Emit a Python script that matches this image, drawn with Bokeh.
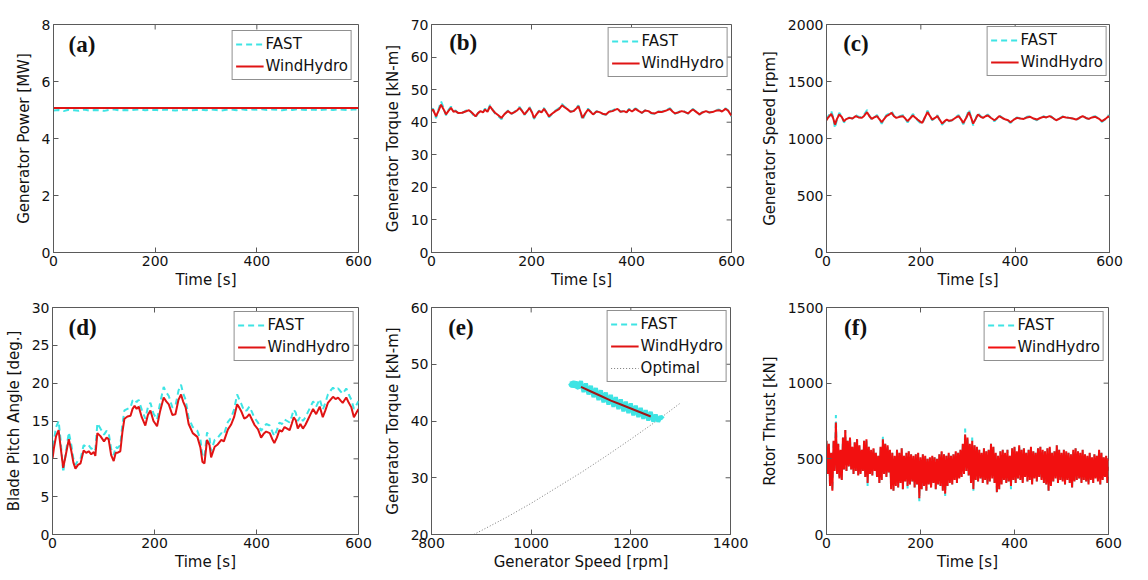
from bokeh.plotting import figure
from bokeh.models import Range1d, FixedTicker, Legend, LegendItem, Label
from bokeh.layouts import row, column
from bokeh.embed import file_html
from bokeh.resources import INLINE

# ---------------- data ----------------
# (a) Generator power [MW]
power_t = list(range(0, 601, 10))
power_fast = [4.98, 5.00, 4.96, 5.01, 4.99, 4.97, 5.02, 4.98, 5.00, 4.99,
              4.97, 5.01, 5.02, 4.98, 5.00, 4.99, 5.01, 5.02, 4.99, 5.00,
              5.01, 4.98, 5.02, 5.00, 4.98, 5.01, 5.02, 4.99, 5.00, 5.01,
              4.99, 5.02, 5.00, 4.98, 5.01, 5.02, 4.99, 5.03, 5.00, 5.02,
              5.01, 5.03, 5.00, 5.02, 5.01, 4.99, 5.02, 5.00, 5.03, 5.01,
              5.00, 5.02, 4.99, 5.01, 5.02, 5.00, 5.03, 5.01, 5.00, 5.02,
              5.01]
power_wh_t = [0, 600]
power_wh = [5.07, 5.07]

# (b) Generator torque [kN-m]
torque_t = [0, 3, 9, 14, 19, 24, 29, 34, 39, 44,
            48, 54, 61, 68, 75, 81, 88, 93, 98, 103,
            107, 112, 117, 122, 127, 133, 140, 146, 153, 160,
            166, 171, 176, 181, 186, 191, 196, 201, 205, 210,
            215, 220, 225, 230, 235, 241, 248, 255, 261, 266,
            271, 278, 284, 289, 294, 298, 302, 307, 313, 318,
            323, 330, 336, 342, 349, 355, 362, 367, 372, 378,
            385, 390, 395, 401, 408, 414, 421, 427, 434, 440,
            447, 453, 460, 468, 477, 482, 487, 493, 500, 506,
            513, 518, 523, 530, 536, 542, 549, 555, 562, 568,
            575, 581, 588, 593, 598, 600]
torque_wh = [43.5, 43.9, 41.8, 43.5, 45.4, 44.0, 42.4, 43.5, 44.4, 43.2,
             43.4, 42.8, 42.9, 43.3, 43.7, 42.9, 41.8, 42.8, 43.4, 43.0,
             43.9, 43.2, 44.9, 43.8, 42.9, 42.2, 41.3, 42.5, 43.4, 42.6,
             43.1, 43.6, 44.4, 43.5, 42.4, 43.3, 44.4, 43.0, 41.3, 42.4,
             43.4, 43.0, 44.1, 43.0, 41.8, 42.6, 43.4, 44.0, 45.2, 44.6,
             44.1, 43.2, 43.4, 44.1, 44.9, 43.2, 41.3, 42.6, 43.9, 43.2,
             42.4, 43.3, 43.1, 42.6, 42.4, 43.2, 43.4, 43.8, 44.1, 43.2,
             43.4, 43.0, 43.9, 43.3, 44.1, 43.5, 42.9, 43.6, 43.4, 42.8,
             42.7, 43.2, 43.1, 43.5, 44.1, 43.3, 42.7, 43.0, 43.4, 43.2,
             42.7, 43.4, 43.9, 43.1, 42.4, 43.0, 43.4, 43.0, 43.1, 43.5,
             43.7, 43.3, 44.1, 43.6, 42.4, 42.0]
torque_fast = [43.8, 44.2, 41.2, 43.9, 46.4, 44.5, 42.1, 43.8, 44.8, 43.4,
               43.6, 42.6, 42.8, 43.5, 44.0, 42.7, 41.4, 42.8, 43.6, 43.1,
               44.2, 43.3, 45.3, 44.0, 42.7, 41.9, 40.9, 42.4, 43.6, 42.5,
               43.2, 43.8, 44.7, 43.6, 42.2, 43.4, 44.7, 43.0, 41.0, 42.3,
               43.6, 43.1, 44.4, 43.0, 41.5, 42.5, 43.6, 44.3, 45.6, 44.8,
               44.3, 43.2, 43.5, 44.3, 45.2, 43.0, 40.6, 42.4, 44.2, 43.3,
               42.2, 43.4, 43.2, 42.5, 42.3, 43.3, 43.6, 44.0, 44.3, 43.2,
               43.5, 42.9, 44.1, 43.4, 44.3, 43.6, 42.8, 43.7, 43.5, 42.7,
               42.6, 43.3, 43.2, 43.6, 44.3, 43.3, 42.6, 43.0, 43.6, 43.3,
               42.6, 43.5, 44.1, 43.1, 42.3, 43.1, 43.6, 43.0, 43.2, 43.7,
               43.9, 43.3, 44.3, 43.7, 42.2, 41.8]

# (c) Generator speed [rpm]
speed_t = [0, 3, 10, 14, 18, 22, 27, 32, 37, 42,
           48, 55, 62, 68, 75, 80, 86, 91, 96, 101,
           107, 112, 117, 122, 127, 133, 138, 143, 148, 155,
           162, 167, 172, 178, 183, 188, 193, 198, 203, 208,
           214, 219, 224, 230, 235, 240, 245, 250, 255, 260,
           266, 273, 280, 285, 290, 296, 302, 306, 311, 316,
           321, 327, 332, 337, 342, 349, 356, 361, 366, 373,
           380, 385, 390, 397, 404, 411, 418, 425, 432, 439,
           446, 453, 460, 466, 473, 480, 487, 494, 501, 508,
           515, 522, 529, 536, 543, 550, 556, 563, 570, 577,
           584, 591, 598, 600]
speed_wh = [1160, 1181, 1215, 1180, 1122, 1170, 1210, 1190, 1152, 1170,
            1181, 1175, 1196, 1185, 1181, 1200, 1231, 1195, 1172, 1185,
            1196, 1170, 1143, 1170, 1196, 1210, 1225, 1195, 1181, 1190,
            1196, 1175, 1152, 1180, 1202, 1185, 1166, 1150, 1137, 1180,
            1231, 1200, 1166, 1180, 1196, 1165, 1131, 1150, 1166, 1155,
            1160, 1180, 1196, 1170, 1137, 1180, 1231, 1190, 1131, 1170,
            1210, 1190, 1181, 1195, 1202, 1180, 1160, 1175, 1196, 1180,
            1166, 1160, 1143, 1165, 1181, 1175, 1172, 1185, 1190, 1175,
            1166, 1180, 1190, 1185, 1196, 1180, 1160, 1175, 1190, 1185,
            1181, 1175, 1166, 1180, 1196, 1180, 1172, 1185, 1190, 1175,
            1152, 1170, 1196, 1185]
speed_fast = [1165, 1190, 1240, 1190, 1090, 1165, 1225, 1200, 1140, 1165,
              1185, 1175, 1205, 1190, 1185, 1210, 1250, 1200, 1165, 1185,
              1205, 1170, 1130, 1170, 1205, 1220, 1240, 1200, 1180, 1195,
              1205, 1175, 1140, 1180, 1215, 1190, 1160, 1140, 1125, 1180,
              1245, 1205, 1160, 1180, 1205, 1160, 1120, 1145, 1165, 1150,
              1160, 1185, 1205, 1170, 1125, 1180, 1255, 1195, 1115, 1170,
              1225, 1195, 1180, 1200, 1210, 1180, 1150, 1175, 1205, 1180,
              1160, 1155, 1135, 1165, 1185, 1175, 1170, 1190, 1195, 1175,
              1160, 1180, 1195, 1185, 1205, 1180, 1155, 1175, 1195, 1185,
              1180, 1175, 1160, 1180, 1205, 1180, 1170, 1190, 1195, 1175,
              1145, 1170, 1205, 1185]

# (d) Blade pitch angle [deg.]
pitch_t = [0, 3, 7, 12, 16, 21, 26, 32, 37, 41,
           45, 50, 55, 61, 66, 71, 76, 81, 84, 88,
           94, 101, 106, 110, 115, 120, 124, 127, 133, 137,
           141, 147, 153, 157, 161, 165, 169, 175, 182, 187,
           192, 198, 205, 211, 218, 223, 228, 235, 241, 247,
           252, 256, 261, 267, 275, 284, 290, 294, 298, 303,
           308, 311, 318, 324, 331, 336, 344, 350, 356, 362,
           366, 370, 376, 381, 386, 391, 396, 403, 409, 414,
           419, 426, 431, 435, 440, 445, 450, 455, 460, 465,
           469, 473, 477, 481, 486, 491, 496, 501, 506, 511,
           517, 524, 530, 535, 540, 545, 550, 555, 560, 565,
           569, 573, 576, 581, 586, 591, 595, 600]
pitch_wh = [10.0, 11.5, 13.0, 13.8, 11.5, 8.8, 10.5, 12.6, 11.0, 9.5,
            8.7, 9.2, 9.4, 11.1, 10.8, 11.0, 10.6, 10.9, 10.4, 13.4,
            13.0, 12.3, 12.8, 12.6, 10.5, 9.7, 10.8, 10.8, 11.0, 13.5,
            15.3, 15.6, 15.7, 16.6, 17.0, 16.6, 16.9, 15.5, 14.4, 15.8,
            16.4, 15.0, 14.3, 16.3, 18.1, 17.6, 17.2, 15.8, 15.9, 17.8,
            18.5, 17.6, 16.8, 14.6, 13.4, 12.9, 11.5, 9.6, 9.4, 12.5,
            11.8, 10.2, 11.6, 11.9, 12.5, 12.3, 13.9, 14.5, 15.5, 17.2,
            16.8, 16.3, 15.3, 15.5, 15.9, 15.2, 14.5, 13.9, 12.8, 13.3,
            13.6, 13.4, 12.6, 12.1, 12.8, 13.8, 13.6, 14.2, 14.0, 13.8,
            14.6, 15.5, 15.1, 14.0, 14.6, 14.0, 14.5, 15.2, 15.9, 16.6,
            15.9, 16.9, 15.5, 16.4, 17.4, 17.8, 18.2, 17.9, 18.1, 17.7,
            17.4, 17.8, 18.1, 17.4, 16.8, 15.5, 16.0, 16.6]
pitch_fast = [10.3, 12.5, 14.2, 15.0, 12.4, 8.2, 10.8, 13.5, 11.8, 10.0,
              9.2, 9.8, 10.0, 11.8, 11.6, 11.8, 11.3, 11.6, 11.2, 14.7,
              14.0, 13.2, 13.7, 13.5, 11.3, 10.5, 11.6, 11.4, 11.8, 14.5,
              16.4, 16.6, 16.8, 17.7, 17.9, 17.5, 17.8, 16.5, 15.3, 16.8,
              17.4, 16.0, 15.2, 17.4, 19.5, 18.8, 18.3, 16.8, 17.0, 19.0,
              19.8, 18.7, 17.8, 15.4, 14.2, 13.7, 12.6, 10.4, 10.2, 13.5,
              12.8, 11.0, 12.5, 12.8, 13.4, 13.2, 14.9, 15.4, 16.5, 18.5,
              17.9, 17.3, 16.3, 16.4, 16.9, 16.2, 15.4, 14.8, 13.7, 14.2,
              14.6, 14.4, 13.6, 13.0, 13.8, 14.8, 14.6, 15.2, 15.0, 14.8,
              15.6, 16.5, 16.1, 15.0, 15.6, 15.0, 15.5, 16.2, 16.9, 17.6,
              16.9, 17.9, 16.5, 17.4, 18.5, 19.0, 19.4, 19.1, 19.3, 18.9,
              18.6, 19.0, 19.3, 18.5, 17.8, 16.6, 17.0, 17.6]

# (e) Torque vs speed
e_fast_speed = [1078, 1085, 1095, 1090, 1080, 1078,
                1095, 1100, 1105, 1110, 1115, 1120, 1125, 1130, 1135, 1140,
                1145, 1150, 1155, 1160, 1165, 1170, 1175, 1180, 1185, 1190,
                1195, 1200, 1205, 1210, 1215, 1220, 1225, 1230, 1235, 1240,
                1245, 1250, 1255, 1260, 1265]
e_fast_torque = [46.6, 46.8, 46.6, 46.1, 46.2, 46.6,
                 45.8, 47.0, 45.1, 46.6, 44.7, 46.2, 44.2, 45.8, 43.7, 45.4,
                 43.3, 45.0, 42.9, 44.6, 42.5, 44.2, 42.1, 43.8, 41.7, 43.4,
                 41.4, 43.1, 41.0, 42.7, 40.7, 42.3, 40.4, 41.9, 40.1, 41.6,
                 39.9, 41.1, 39.9, 40.8, 40.4]
e_wh_speed = [1100, 1120, 1140, 1160, 1180, 1200, 1220, 1240]
e_wh_torque = [46.0, 45.2, 44.4, 43.6, 42.9, 42.2, 41.5, 40.8]
e_opt_speed = [885, 950, 1000, 1050, 1100, 1150, 1200, 1250, 1300]
e_opt_torque = [20.0, 23.0, 25.5, 28.2, 30.9, 33.8, 36.8, 39.9, 43.2]

# (f) Rotor thrust [kN]: upper and lower swings of the fast oscillation
thrust_hi_t = list(range(0, 601, 5))
thrust_hi = [620, 600, 540, 620, 740, 600, 560, 640, 690, 620,
             640, 580, 610, 630, 590, 560, 620, 630, 580, 560,
             570, 540, 520, 580, 630, 600, 590, 560, 540, 520,
             560, 540, 570, 520, 540, 550, 530, 520, 530, 540,
             510, 530, 520, 500, 510, 520, 510, 500, 530, 550,
             530, 520, 540, 520, 530, 550, 540, 560, 600, 660,
             640, 600, 620, 590, 580, 560, 540, 570, 550, 560,
             600, 580, 540, 520, 550, 560, 540, 560, 520, 570,
             580, 550, 590, 560, 570, 540, 560, 580, 550, 540,
             570, 580, 560, 550, 570, 580, 540, 550, 590, 560,
             540, 560, 550, 540, 530, 560, 570, 550, 540, 560,
             530, 520, 540, 510, 530, 520, 560, 540, 510, 520,
             500]
thrust_lo_t = [t + 2.5 for t in range(0, 600, 5)]
thrust_lo = [400, 320, 290, 420, 400, 370, 360, 430, 420, 450,
             430, 400, 420, 390, 400, 420, 380, 340, 400, 390,
             420, 380, 340, 360, 400, 380, 410, 300, 290, 320,
             310, 340, 300, 350, 320, 330, 350, 310, 330, 240,
             300, 320, 290, 330, 310, 340, 300, 330, 320, 290,
             270, 320, 340, 330, 360, 340, 370, 380, 400, 420,
             390, 340, 300, 360, 350, 370, 340, 360, 330, 350,
             370, 340, 280, 300, 330, 360, 340, 350, 320, 360,
             340, 370, 360, 340, 380, 350, 360, 330, 370, 350,
             380, 360, 340, 330, 290, 320, 350, 370, 340, 360,
             350, 330, 360, 340, 310, 350, 360, 370, 340, 360,
             350, 330, 360, 340, 370, 350, 330, 360, 380, 340]
# FAST differs visibly only at these peaks
thrust_fast_hi_peaks = {20: 790, 120: 645, 295: 700, 310: 640}
thrust_fast_lo_peaks = {32.5: 350, 87.5: 320, 172.5: 305, 197.5: 220,
                        252.5: 255, 312.5: 290, 392.5: 300, 522.5: 300}

# ---------------- styling ----------------
FONT = "DejaVu Sans"
CYAN = "#3ee4e4"
RED = "#e01414"
FRAME = "#5a5a5a"
DASH = "6 4"
TICK_PX = 5


def make_fig(width, height, bl, br, bt, bb, xr, yr, fw, fh, xticks, yticks, xlabel, ylabel):
    p = figure(width=width, height=height, output_backend="svg", toolbar_location=None,
               x_range=Range1d(*xr), y_range=Range1d(*yr),
               min_border_left=bl, min_border_right=br,
               min_border_top=bt, min_border_bottom=bb)
    p.grid.visible = False
    p.outline_line_color = FRAME
    p.outline_line_width = 1
    p.background_fill_color = "white"
    p.border_fill_color = "white"
    p.xaxis.axis_label = xlabel
    p.yaxis.axis_label = ylabel
    for ax, ticks in ((p.xaxis[0], xticks), (p.yaxis[0], yticks)):
        ax.ticker = FixedTicker(ticks=ticks)
        ax.major_tick_in = TICK_PX
        ax.major_tick_out = 0
        ax.minor_tick_in = 0
        ax.minor_tick_out = 0
        ax.axis_line_color = FRAME
        ax.major_tick_line_color = FRAME
        ax.major_label_text_font = FONT
        ax.major_label_text_font_size = "14px"
        ax.major_label_text_color = "#111111"
        ax.major_label_standoff = 3
        ax.axis_label_text_font = FONT
        ax.axis_label_text_font_size = "15px"
        ax.axis_label_text_font_style = "normal"
        ax.axis_label_text_color = "#111111"
    p.xaxis[0].axis_label_standoff = 2
    p.yaxis[0].axis_label_standoff = 6
    # inward tick marks on the top and right edges of the box (MATLAB "box on")
    dx = TICK_PX / fw * (xr[1] - xr[0])
    dy = TICK_PX / fh * (yr[1] - yr[0])
    p.segment(x0=list(xticks), x1=list(xticks), y0=[yr[1]] * len(xticks),
              y1=[yr[1] - dy] * len(xticks), line_color=FRAME, line_width=1)
    p.segment(x0=[xr[1]] * len(yticks), x1=[xr[1] - dx] * len(yticks),
              y0=list(yticks), y1=list(yticks), line_color=FRAME, line_width=1)
    return p


def add_letter(p, letter, xr, yr, fw, fh, dx, dy):
    x = xr[0] + dx / fw * (xr[1] - xr[0])
    y = yr[1] - dy / fh * (yr[1] - yr[0])
    p.add_layout(Label(x=x, y=y, text=letter, text_font="Liberation Serif",
                       text_font_size="23px", text_font_style="bold",
                       text_baseline="top", text_align="left", text_color="#111111"))


def add_legend(p, items, margin=4):
    leg = Legend(items=[LegendItem(label=l, renderers=[r]) for l, r in items],
                 location="top_right")
    leg.label_text_font = FONT
    leg.label_text_font_size = "15px"
    leg.label_text_color = "#111111"
    leg.label_height = 20
    leg.glyph_height = 20
    leg.glyph_width = 28
    leg.label_standoff = 2
    leg.padding = 3
    leg.spacing = 2
    leg.margin = margin
    leg.border_line_color = "#222222"
    leg.border_line_width = 1
    leg.background_fill_alpha = 1.0
    p.add_layout(leg)


TX = [0, 200, 400, 600]
ROW1_H, ROW2_H = 292, 288

# (a)
xa, ya = (0, 600), (0, 8)
pa = make_fig(380, ROW1_H, 53, 22, 24, 40, xa, ya, 305, 228, TX, [0, 2, 4, 6, 8],
              "Time [s]", "Generator Power [MW]")
ra1 = pa.line(power_t, power_fast, line_color=CYAN, line_width=2, line_dash=DASH)
ra2 = pa.line(power_wh_t, power_wh, line_color=RED, line_width=2)
add_legend(pa, [("FAST", ra1), ("WindHydro", ra2)], margin=6)
add_letter(pa, "(a)", xa, ya, 305, 228, 15, 7)

# (b)
xb, yb = (0, 600), (0, 70)
pb = make_fig(377, ROW1_H, 45, 26, 24, 40, xb, yb, 306, 228, TX, list(range(0, 71, 10)),
              "Time [s]", "Generator Torque [kN-m]")
rb1 = pb.line(torque_t, torque_fast, line_color=CYAN, line_width=2, line_dash=DASH)
rb2 = pb.line(torque_t, torque_wh, line_color=RED, line_width=2)
add_legend(pb, [("FAST", rb1), ("WindHydro", rb2)], margin=3)
add_letter(pb, "(b)", xb, yb, 306, 228, 18, 5)

# (c)
xc, yc = (0, 600), (0, 2000)
pc = make_fig(391, ROW1_H, 63, 39, 24, 40, xc, yc, 289, 228, TX, [0, 500, 1000, 1500, 2000],
              "Time [s]", "Generator Speed [rpm]")
rc1 = pc.line(speed_t, speed_fast, line_color=CYAN, line_width=2, line_dash=DASH)
rc2 = pc.line(speed_t, speed_wh, line_color=RED, line_width=2)
add_legend(pc, [("FAST", rc1), ("WindHydro", rc2)], margin=2)
add_letter(pc, "(c)", xc, yc, 289, 228, 17, 6)

# (d)
xd, yd = (0, 600), (0, 30)
pd_ = make_fig(380, ROW2_H, 52, 22, 15, 46, xd, yd, 306, 227, TX, [0, 5, 10, 15, 20, 25, 30],
               "Time [s]", "Blade Pitch Angle [deg.]")
rd1 = pd_.line(pitch_t, pitch_fast, line_color=CYAN, line_width=2, line_dash=DASH)
rd2 = pd_.line(pitch_t, pitch_wh, line_color=RED, line_width=2)
add_legend(pd_, [("FAST", rd1), ("WindHydro", rd2)], margin=4)
add_letter(pd_, "(d)", xd, yd, 306, 227, 16, 7)

# (e)
xe, ye = (800, 1400), (20, 60)
pe = make_fig(377, ROW2_H, 45, 27, 14, 45, xe, ye, 305, 229, [800, 1000, 1200, 1400],
              [20, 30, 40, 50, 60], "Generator Speed [rpm]", "Generator Torque [kN-m]")
pe.line(e_opt_speed, e_opt_torque, line_color="#7a7a7a", line_width=1, line_dash="1 2")
pe.line(e_fast_speed, e_fast_torque, line_color=CYAN, line_width=4)
pe.line(e_wh_speed, e_wh_torque, line_color="#a01818", line_width=2)
# legend samples (kept outside the visible range)
le1 = pe.line([0, 1], [0, 0], line_color=CYAN, line_width=2, line_dash=DASH)
le2 = pe.line([0, 1], [0, 0], line_color=RED, line_width=2)
le3 = pe.line([0, 1], [0, 0], line_color="#7a7a7a", line_width=1, line_dash="1 2")
add_legend(pe, [("FAST", le1), ("WindHydro", le2), ("Optimal", le3)], margin=3)
add_letter(pe, "(e)", xe, ye, 305, 229, 17, 8)

# (f)
xf, yf = (0, 600), (0, 1500)
pf = make_fig(391, ROW2_H, 62, 40, 14, 45, xf, yf, 289, 229, TX, [0, 500, 1000, 1500],
              "Time [s]", "Rotor Thrust [kN]")
th_t, th_wh, th_fast = [], [], []
for i in range(len(thrust_lo)):
    th_t.append(thrust_hi_t[i]); th_wh.append(thrust_hi[i])
    th_fast.append(thrust_fast_hi_peaks.get(thrust_hi_t[i], thrust_hi[i]))
    th_t.append(thrust_lo_t[i]); th_wh.append(thrust_lo[i])
    th_fast.append(thrust_fast_lo_peaks.get(thrust_lo_t[i], thrust_lo[i]))
th_t.append(thrust_hi_t[-1]); th_wh.append(thrust_hi[-1]); th_fast.append(thrust_hi[-1])
rf1 = pf.line(th_t, th_fast, line_color=CYAN, line_width=2, line_dash=DASH)
rf2 = pf.line(th_t, th_wh, line_color="#f21010", line_width=2)
add_legend(pf, [("FAST", rf1), ("WindHydro", rf2)], margin=4)
add_letter(pf, "(f)", xf, yf, 289, 229, 18, 8)

layout = column(row(pa, pb, pc), row(pd_, pe, pf))
open("out.html", "w").write(file_html(layout, INLINE))
